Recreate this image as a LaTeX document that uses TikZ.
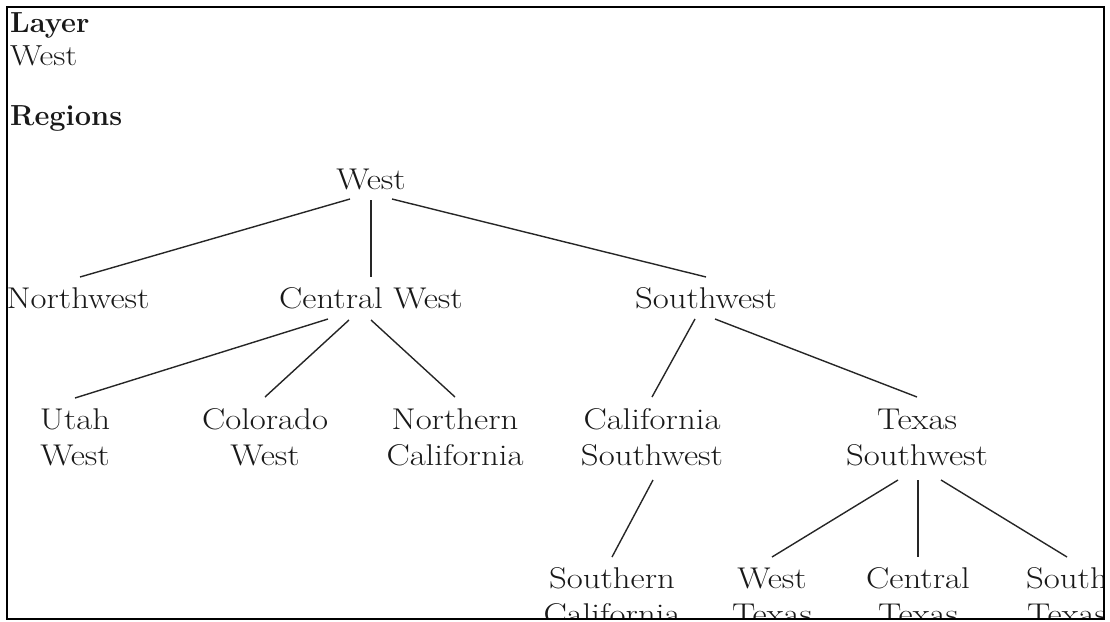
\documentclass[tikz,border=0pt]{standalone}
\usepackage{fontspec}
\newfontfamily\treefont{Latin Modern Roman}[FakeStretch=1.16]
\usetikzlibrary{calc}
\begin{document}
\begin{tikzpicture}[x=1pt,y=-1pt,
  lbl/.style={anchor=base,inner sep=0pt,align=center,text=black!90,font=\treefont\fontsize{30}{36}\selectfont},
  head/.style={anchor=base west,inner sep=0pt,text=black!90,font=\fontsize{29}{36}\selectfont\bfseries},
  plain/.style={anchor=base west,inner sep=0pt,text=black!90,font=\treefont\fontsize{29}{36}\selectfont},
  edge/.style={line width=1.4pt,draw=black!85}]
\useasboundingbox (0,0) rectangle (1110,621);
\begin{scope}
\clip (7,7) rectangle (1104,619);
\node[head]  (layer)   at (10,32)  {Layer};
\node[plain] (layerw)  at (10,65)  {West};
\node[head]  (regions) at (10,125) {Regions};
% tree (two-line nodes: base = baseline of the last line)
\node[lbl] (w)    at (371,189) {West};
\node[lbl] (nw)   at (78,308)  {Northwest};
\node[lbl] (cw)   at (371,308) {Central West};
\node[lbl] (sw)   at (706,308) {Southwest};
\node[lbl] (utah) at (75,465)  {Utah\\West};
\node[lbl] (colo) at (265,465) {Colorado\\West};
\node[lbl] (ncal) at (455,465) {Northern\\California};
\node[lbl] (csw)  at (652,465) {California\\Southwest};
\node[lbl] (tsw)  at (917,465) {Texas\\Southwest};
\node[lbl] (scal) at (612,624) {Southern\\California};
\node[lbl] (wtx)  at (772,624) {West\\Texas};
\node[lbl] (ctx)  at (918,624) {Central\\Texas};
\node[lbl] (stx)  at (1067,624) {South\\Texas};
% edges
\draw[edge] ($(w.base)+(-21,10)$) -- ($(nw.base)+(2,-31)$);
\draw[edge] ($(w.base)+(0,11)$)   -- ($(cw.base)+(0,-31)$);
\draw[edge] ($(w.base)+(21,10)$)  -- ($(sw.base)+(0,-31)$);
\draw[edge] ($(cw.base)+(-43,11)$) -- ($(utah.base)+(0,-67)$);
\draw[edge] ($(cw.base)+(-22,12)$) -- ($(colo.base)+(0,-68)$);
\draw[edge] ($(cw.base)+(0,12)$)   -- ($(ncal.base)+(0,-68)$);
\draw[edge] ($(sw.base)+(-11,11)$) -- ($(csw.base)+(0,-68)$);
\draw[edge] ($(sw.base)+(9,11)$)   -- ($(tsw.base)+(0,-68)$);
\draw[edge] ($(csw.base)+(1,15)$)  -- ($(scal.base)+(0,-67)$);
\draw[edge] ($(tsw.base)+(-19,15)$) -- ($(wtx.base)+(0,-67)$);
\draw[edge] ($(tsw.base)+(1,15)$)  -- ($(ctx.base)+(0,-67)$);
\draw[edge] ($(tsw.base)+(24,15)$) -- ($(stx.base)+(0,-67)$);
\end{scope}
\draw[line width=2.5pt] (7,7) rectangle (1104,619);
\end{tikzpicture}
\end{document}
